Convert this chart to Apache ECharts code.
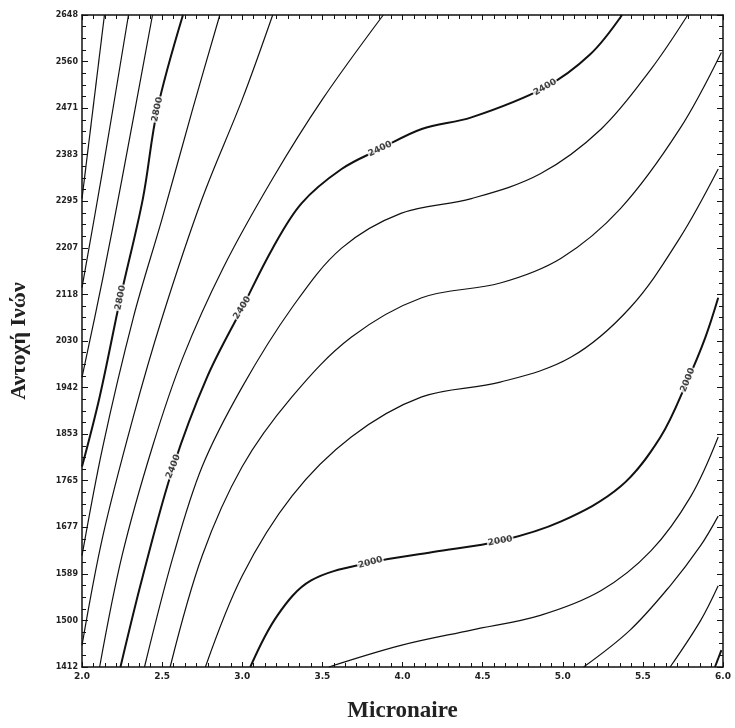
<!DOCTYPE html>
<html>
<head>
<meta charset="utf-8">
<script src="https://cdn.jsdelivr.net/npm/echarts@6/dist/echarts.min.js"></script>
<style>
  html, body { margin: 0; padding: 0; background: #fff; }
  #chart { width: 735px; height: 728px; }
</style>
</head>
<body>
<div id="chart"></div>
<script>
// contour levels and traced points [micronaire, strength]
var levels = [3100, 3000, 2900, 2800, 2700, 2600, 2500, 2400, 2300, 2200, 2100, 2000, 1900, 1800, 1700, 1600];

var c3100 = [[2.0,2300],[2.14,2648]];
var c3000 = [[2.0,2131],[2.13,2356],[2.29,2648]];
var c2900 = [[2.0,1961],[2.13,2149],[2.25,2338],[2.44,2648]];
var c2800 = [[2.0,1792],[2.11,1924],[2.24,2112],[2.38,2300],[2.47,2469],[2.63,2648]];
var c2700 = [[2.0,1623],[2.13,1830],[2.32,2074],[2.50,2262],[2.69,2469],[2.86,2648]];
var c2600 = [[2.0,1453],[2.13,1660],[2.32,1886],[2.50,2074],[2.75,2300],[3.00,2488],[3.19,2648]];
var c2500 = [[2.11,1412],[2.25,1623],[2.44,1830],[2.63,1999],[2.88,2168],[3.19,2338],[3.50,2488],[3.88,2648]];
var c2400 = [[2.24,1412],[2.38,1585],[2.57,1792],[2.78,1961],[3.00,2093],[3.19,2206],[3.37,2291],[3.62,2356],[3.86,2394],[4.12,2432],[4.43,2454],[4.89,2511],[5.17,2573],[5.37,2648]];
var c2300 = [[2.39,1412],[2.57,1623],[2.75,1792],[3.00,1943],[3.31,2093],[3.62,2206],[3.99,2272],[4.43,2300],[4.86,2347],[5.24,2432],[5.55,2545],[5.78,2648]];
var c2200 = [[2.55,1412],[2.75,1623],[3.00,1792],[3.31,1924],[3.68,2037],[4.12,2112],[4.61,2140],[4.99,2187],[5.36,2281],[5.73,2432],[5.99,2577]];
var c2100 = [[2.77,1412],[3.00,1585],[3.31,1736],[3.68,1848],[4.12,1924],[4.61,1952],[5.05,1999],[5.42,2093],[5.73,2225],[5.97,2356]];
var c2000 = [[3.05,1412],[3.22,1510],[3.43,1576],[3.80,1610],[4.19,1630],[4.61,1651],[4.99,1688],[5.36,1754],[5.61,1848],[5.78,1956],[5.89,2037],[5.97,2112]];
var c1900 = [[3.54,1412],[3.99,1453],[4.43,1482],[4.86,1510],[5.24,1557],[5.55,1632],[5.80,1736],[5.97,1848]];
var c1800 = [[5.13,1412],[5.42,1482],[5.67,1566],[5.86,1642],[5.97,1698]];
var c1700 = [[5.67,1412],[5.86,1500],[5.97,1566]];
var c1600 = [[5.95,1412],[5.99,1444]];

var contours = [c3100, c3000, c2900, c2800, c2700, c2600, c2500, c2400, c2300, c2200, c2100, c2000, c1900, c1800, c1700, c1600];

// contour labels [micronaire, strength, text, angle]
var contourLabels = [
  [2.24, 2112, '2800', 78], [2.47, 2469, '2800', 78],
  [2.57, 1792, '2400', 68], [3.00, 2093, '2400', 58],
  [3.86, 2394, '2400', 25], [4.89, 2511, '2400', 30],
  [3.80, 1610, '2000', 15], [4.61, 1651, '2000', 10], [5.78, 1956, '2000', 68]
];

var yTicks = ['1412','1500','1589','1677','1765','1853','1942','2030','2118','2207','2295','2383','2471','2560','2648'];
var yMin = 1412, yMax = 2648;

var myChart = echarts.init(document.getElementById('chart'));

var series = [];
contours.forEach(function (pts, i) {
  var major = levels[i] % 400 === 0;
  series.push({
    type: 'line',
    xAxisIndex: 0, yAxisIndex: 0,
    data: pts,
    smooth: 0.35,
    symbol: 'none',
    silent: true,
    clip: true,
    lineStyle: { color: '#111', width: major ? 2 : 1.2 }
  });
});

series.push({
  type: 'scatter',
  xAxisIndex: 0, yAxisIndex: 0,
  symbolSize: 0,
  z: 5,
  data: contourLabels.map(function (l) {
    return {
      value: [l[0], l[1]],
      label: {
        show: true, position: 'inside', formatter: l[2], rotate: l[3],
        color: '#111', fontSize: 9, fontWeight: 'bold', fontFamily: 'DejaVu Sans',
        backgroundColor: '#fff', padding: [0, 1]
      }
    };
  })
});

var tickInterval = (yMax - yMin) / (yTicks.length - 1);

myChart.setOption({
  animation: false,
  backgroundColor: '#fff',
  grid: { left: 79, right: 12, top: 15, bottom: 56 },
  xAxis: [{
    type: 'value', min: 2, max: 6, interval: 0.5, position: 'bottom',
    name: 'Micronaire', nameLocation: 'middle', nameGap: 33,
    nameTextStyle: { fontFamily: 'Liberation Serif', fontWeight: 'bold', fontSize: 23, color: '#222' },
    axisLine: { lineStyle: { color: '#111', width: 1.5 } },
    axisTick: { inside: true, length: 5, lineStyle: { color: '#111' } },
    minorTick: { show: true, splitNumber: 7, length: 4, lineStyle: { color: '#111' } },
    axisLabel: { formatter: function (v) { return v.toFixed(1); }, fontSize: 9, fontWeight: 'bold', color: '#222', margin: 5, fontFamily: 'DejaVu Sans' },
    splitLine: { show: false }
  }, {
    type: 'value', min: 2, max: 6, interval: 0.5, position: 'top',
    axisLine: { lineStyle: { color: '#111', width: 1.5 } },
    axisTick: { inside: true, length: 5, lineStyle: { color: '#111' } },
    minorTick: { show: true, splitNumber: 7, length: 4, lineStyle: { color: '#111' } },
    axisLabel: { show: false },
    splitLine: { show: false }
  }],
  yAxis: [{
    type: 'value', min: yMin, max: yMax, interval: tickInterval, position: 'left',
    name: 'Αντοχή Ινών', nameLocation: 'middle', nameGap: 52, nameRotate: 90,
    nameTextStyle: { fontFamily: 'Liberation Serif', fontWeight: 'bold', fontSize: 22, color: '#222' },
    axisLine: { lineStyle: { color: '#111', width: 1.5 } },
    axisTick: { inside: true, length: 6, lineStyle: { color: '#111' } },
    minorTick: { show: true, splitNumber: 4, length: 4, lineStyle: { color: '#111' } },
    axisLabel: {
      formatter: function (v) { return yTicks[Math.round((v - yMin) / tickInterval)]; },
      fontSize: 8, fontWeight: 'bold', color: '#222', margin: 4, fontFamily: 'DejaVu Sans'
    },
    splitLine: { show: false }
  }, {
    type: 'value', min: yMin, max: yMax, interval: tickInterval, position: 'right',
    axisLine: { lineStyle: { color: '#111', width: 1.5 } },
    axisTick: { inside: true, length: 6, lineStyle: { color: '#111' } },
    minorTick: { show: true, splitNumber: 4, length: 4, lineStyle: { color: '#111' } },
    axisLabel: { show: false },
    splitLine: { show: false }
  }],
  series: series
});
</script>
</body>
</html>
